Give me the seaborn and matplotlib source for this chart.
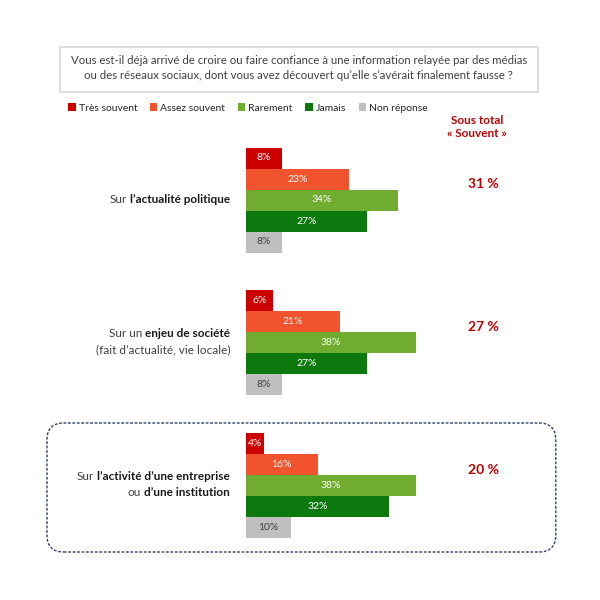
import pandas as pd
import numpy as np
import matplotlib.pyplot as plt
import seaborn as sns
from matplotlib.patches import Patch, Rectangle, FancyBboxPatch

# data
categories = ["Très souvent", "Assez souvent", "Rarement", "Jamais", "Non réponse"]
palette = ["#CC0000", "#F0532D", "#6FAC2F", "#0D780D", "#BFBFBF"]
topic_bold = ["l\u2019actualité politique", "enjeu de société", "l\u2019activité d\u2019une entreprise"]
topic_prefix = ["Sur", "Sur un", "Sur"]
topic_line2 = [None, "(fait d\u2019actualité, vie locale)", ("ou", "d\u2019une institution")]
politique = [8, 23, 34, 27, 8]
societe = [6, 21, 38, 27, 8]
entreprise = [4, 16, 38, 32, 10]
sous_total = ["31 %", "27 %", "20 %"]

groups = [politique, societe, entreprise]
step = 6.8  # distance between groups, in bar heights

rows = []
for g, vals in enumerate(groups):
    for i, (cat, v) in enumerate(zip(categories, vals)):
        rows.append({"pos": g * step + i, "cat": cat, "val": v})
df = pd.DataFrame(rows)

sns.set_theme(style="white")
plt.rcParams["font.family"] = ["Lato", "DejaVu Sans"]

fig = plt.figure(figsize=(6, 6), dpi=100)
ax = fig.add_axes([246 / 600, 0, 0.3725, 1])

sns.barplot(data=df, x="val", y="pos", hue="cat", hue_order=categories,
            palette=palette, orient="h", native_scale=True, dodge=False,
            width=1, saturation=1, errorbar=None, legend=False, ax=ax,
            linewidth=0)

ax.set_xlim(0, 50)
ax.set_ylim((600 - 158) / 21, -158 / 21)
ax.axis("off")

for k, cont in enumerate(ax.containers):
    col = "#404040" if k == len(categories) - 1 else "white"
    ax.bar_label(cont, fmt="{:.0f}%", label_type="center", color=col, fontsize=7.5)

# title box
fig.patches.append(Rectangle((0.1, 1 - 92 / 600), 478 / 600, 45 / 600,
                             transform=fig.transFigure, fill=False,
                             edgecolor="#D9D9D9", lw=1.2))
fig.text(0.498, 1 - 68 / 600,
         "Vous est-il déjà arrivé de croire ou faire confiance à une information relayée par des médias\n"
         "ou des réseaux sociaux, dont vous avez découvert qu\u2019elle s\u2019avérait finalement fausse ?",
         ha="center", va="center", fontsize=8.2, color="#404040", linespacing=1.45)

# legend
handles = [Patch(facecolor=c, edgecolor="none", label=l) for c, l in zip(palette, categories)]
fig.legend(handles=handles, loc="center left", bbox_to_anchor=(0.114, 1 - 108 / 600),
           ncol=5, frameon=False, fontsize=7.5, handlelength=0.7, handleheight=0.7,
           handletextpad=0.3, columnspacing=1.2, borderaxespad=0, borderpad=0)

red = "#C00000"
fig.text(0.795, 1 - 127 / 600, "Sous total\n\u00ab Souvent \u00bb", ha="center", va="center",
         color=red, fontweight="bold", fontsize=8.5, linespacing=1.2)

# topic labels and sub-totals
centers = [200, 341, 484]
for g in range(3):
    yc = 1 - centers[g] / 600
    two = topic_line2[g] is not None
    y1 = yc + (8 / 600 if two else 0)
    b = fig.text(230 / 600, y1, topic_bold[g], ha="right", va="center",
                 fontsize=8.5, fontweight="bold", color="#1a1a1a")
    ax.annotate(topic_prefix[g], xy=(0, 0.5), xycoords=b, xytext=(-2.2, 0),
                textcoords="offset points", ha="right", va="center",
                fontsize=8.5, color="#404040")
    if two:
        y2 = yc - 8.5 / 600
        l2 = topic_line2[g]
        if isinstance(l2, tuple):
            b2 = fig.text(230 / 600, y2, l2[1], ha="right", va="center",
                          fontsize=8.5, fontweight="bold", color="#1a1a1a")
            ax.annotate(l2[0], xy=(0, 0.5), xycoords=b2, xytext=(-2.2, 0),
                        textcoords="offset points", ha="right", va="center",
                        fontsize=8.5, color="#404040")
        else:
            fig.text(230 / 600, y2, l2, ha="right", va="center", fontsize=8.5, color="#404040")
    ytot = [184, 327, 470][g]
    fig.text(0.805, 1 - ytot / 600, sous_total[g], ha="center", va="center",
             color=red, fontweight="bold", fontsize=10)

# dashed frame around the last group
fig.patches.append(FancyBboxPatch((0.0783, 0.08), 0.848, 0.215,
                                  boxstyle="round,pad=0,rounding_size=0.028",
                                  transform=fig.transFigure, fill=False,
                                  edgecolor="#2F3E6E", lw=1, linestyle=(0, (2, 1.2))))

fig.savefig("out.png", dpi=100)
